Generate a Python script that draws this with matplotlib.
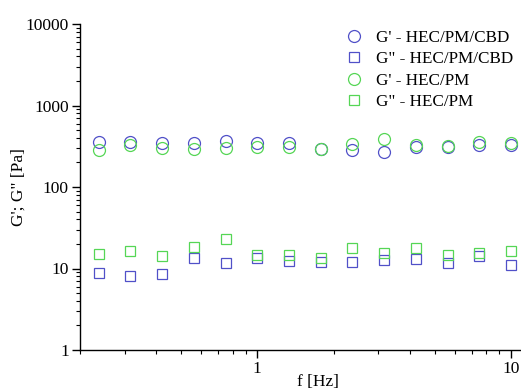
import numpy as np
import matplotlib.pyplot as plt
from matplotlib.ticker import LogLocator, NullFormatter, FixedLocator, FixedFormatter

# frequency [Hz]
freq = [0.237, 0.316, 0.422, 0.562, 0.75, 1.0, 1.33, 1.78, 2.37, 3.16, 4.22, 5.62, 7.5, 10.0]

# moduli [Pa]
g1_cbd = [361, 361, 349, 349, 372, 349, 345, 294, 281, 267, 308, 314, 323, 323]
g2_cbd = [8.9, 8.05, 8.5, 13.6, 11.8, 13.6, 12.3, 12.0, 12.0, 12.6, 13.0, 11.8, 14.3, 11.0]
g1_pm = [281, 323, 299, 294, 299, 308, 308, 294, 339, 383, 323, 316, 354, 349]
g2_pm = [15.0, 16.3, 14.3, 18.4, 23.3, 14.6, 14.8, 13.3, 17.9, 15.3, 17.9, 14.6, 15.7, 16.3]

labels = ["G' - HEC/PM/CBD", 'G" - HEC/PM/CBD', "G' - HEC/PM", 'G" - HEC/PM']

BLUE = "#5050c8"
GREEN = "#55d655"

plt.rcParams["font.family"] = ["Liberation Serif", "DejaVu Serif"]

fig = plt.figure(figsize=(5.21, 3.91), dpi=100)
ax = fig.add_axes([80 / 521, 41 / 391, 441 / 521, 326 / 391])

mk = dict(linestyle="none", markerfacecolor="none", markeredgewidth=0.9)
ax.plot(freq, g1_cbd, marker="o", markersize=8.6, color=BLUE, label=labels[0], **mk)
ax.plot(freq, g2_cbd, marker="s", markersize=7.4, color=BLUE, label=labels[1], **mk)
ax.plot(freq, g1_pm, marker="o", markersize=8.6, color=GREEN, label=labels[2], **mk)
ax.plot(freq, g2_pm, marker="s", markersize=7.4, color=GREEN, label=labels[3], **mk)

ax.set_xscale("log")
ax.set_yscale("log")
ax.set_xlim(0.2, 10.95)
ax.set_ylim(1, 10000)

ax.spines["top"].set_visible(False)
ax.spines["right"].set_visible(False)
for s in ("left", "bottom"):
    ax.spines[s].set_linewidth(1.0)

ax.xaxis.set_major_locator(FixedLocator([1, 10]))
ax.xaxis.set_major_formatter(FixedFormatter(["1", "10"]))
ax.xaxis.set_minor_locator(LogLocator(base=10, subs=np.arange(2, 10)))
ax.xaxis.set_minor_formatter(NullFormatter())
ax.yaxis.set_major_locator(FixedLocator([1, 10, 100, 1000, 10000]))
ax.yaxis.set_major_formatter(FixedFormatter(["1", "10", "100", "1000", "10000"]))
ax.yaxis.set_minor_locator(LogLocator(base=10, subs=np.arange(2, 10)))
ax.yaxis.set_minor_formatter(NullFormatter())

ax.tick_params(which="major", direction="out", length=6, width=1.0, labelsize=12.5, pad=2)
ax.tick_params(which="minor", direction="out", length=3, width=0.8)

ax.set_ylabel("G'; G\" [Pa]", fontsize=12.5, labelpad=-1)
ax.set_xlabel("f [Hz]", fontsize=12.5)
ax.xaxis.set_label_coords(238 / 441, -0.075)

ax.legend(loc="upper left", bbox_to_anchor=(0.64, 0.955), bbox_transform=fig.transFigure,
          frameon=False, fontsize=12.3, handlelength=1.0, handletextpad=0.8,
          labelspacing=0.33, borderpad=0.2)

fig.savefig("out.png", dpi=100)
